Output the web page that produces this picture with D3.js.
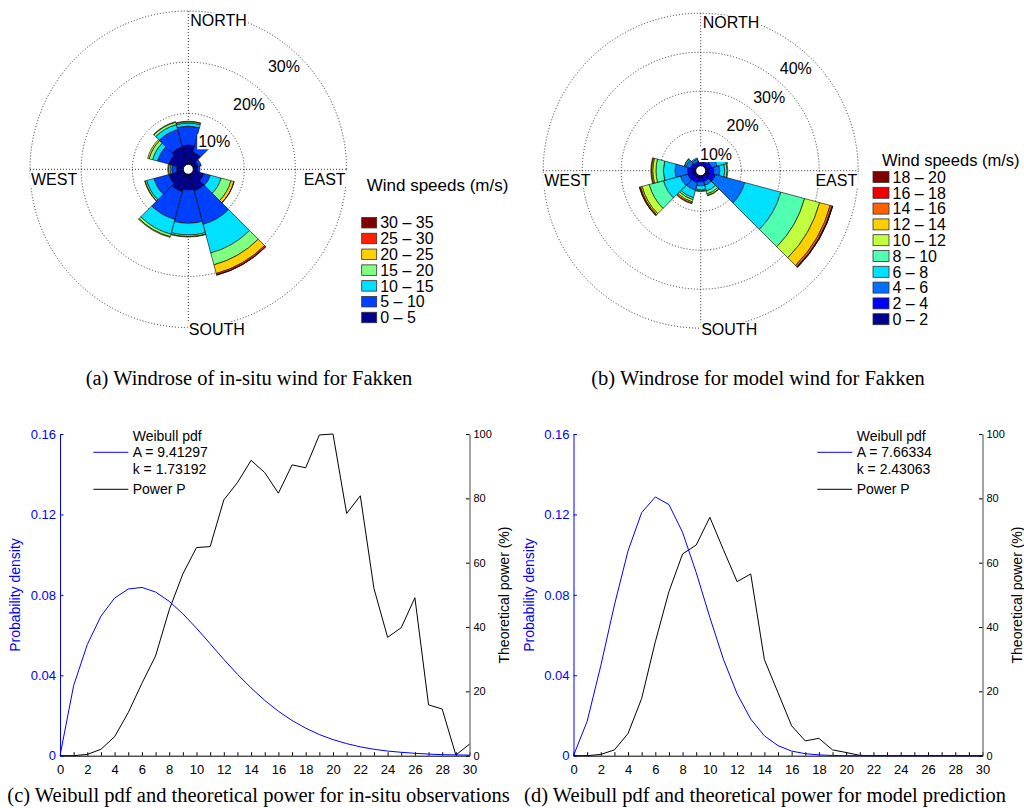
<!DOCTYPE html>
<html><head><meta charset="utf-8">
<script src="https://cdn.jsdelivr.net/npm/d3@7"></script>
<style>
body{margin:0;background:#fff}
svg text{font-family:"Liberation Sans",Arial,Helvetica,sans-serif}
</style>
</head><body>
<svg id="chart" width="1024" height="808"></svg>
<script>
// ---------------- DATA ----------------
const directions = [0,30,60,90,120,150,180,210,240,270,300,330];

// (a) in-situ windrose: cumulative % per direction, one value per speed bin
const binsA = ["0 – 5","5 – 10","10 – 15","15 – 20","20 – 25","25 – 30","30 – 35"];
const colorsA = ["#00008f","#0040ff","#00e0ff","#80ff80","#ffd000","#ff2000","#800000"];
const roseA = [
  [3.8, 7.5, 8.1, 8.35, 8.45],
  [2.5, 6.0],
  [1.0, 1.7],
  [0.9, 1.35],
  [2.2, 3.5, 5.7, 7.7, 8.3, 8.35],
  [3.4, 10.2, 16.0, 18.4, 20.15, 20.45, 20.5],
  [3.1, 9.6, 11.9, 12.2, 12.3],
  [3.6, 9.2, 12.2, 12.7, 12.85],
  [3.0, 6.0, 7.5, 7.8, 7.9],
  [1.35, 2.3, 2.65, 2.95, 3.1],
  [3.0, 5.3, 6.3, 7.0, 7.3],
  [3.6, 7.1, 8.1, 8.6, 8.7]
];
const ringsA = [10,20,30];

// (b) model windrose
const binsB = ["0 – 2","2 – 4","4 – 6","6 – 8","8 – 10","10 – 12","12 – 14","14 – 16","16 – 18","18 – 20"];
const colorsB = ["#00008f","#0000ff","#0070ff","#00e0ff","#50ffb0","#c0ff40","#ffd000","#ff6000","#ee0000","#800000"];
const roseB = [
  [1.0, 1.8, 2.2],
  [1.0, 2.0, 2.6],
  [1.2, 2.5, 4.0, 6.5, 6.8],
  [1.5, 3.0, 4.5, 5.8, 6.4, 6.6],
  [2.0, 3.5, 11.3, 20.9, 27.2, 31.2, 34.0, 34.5, 34.65, 34.7],
  [1.2, 2.5, 3.5, 5.0, 5.8, 6.2, 6.3],
  [1.5, 2.5, 3.5, 4.5, 4.8, 5.0],
  [1.5, 2.8, 4.8, 6.8, 7.3, 7.9, 8.2, 8.4],
  [1.8, 3.0, 5.0, 9.5, 13.3, 15.2, 15.6, 15.85, 15.9],
  [1.8, 3.0, 6.2, 9.2, 11.1, 11.9, 12.2, 12.4],
  [1.2, 2.3, 3.5, 3.9, 4.0],
  [1.0, 2.0, 2.7, 3.0]
];
const ringsB = [10,20,30,40];
const compassLabels = ["NORTH","EAST","SOUTH","WEST"];
const legendTitle = "Wind speeds (m/s)";

// (c)/(d) Weibull pdf and power
const windSpeed = [0,1,2,3,4,5,6,7,8,9,10,11,12,13,14,15,16,17,18,19,20,21,22,23,24,25,26,27,28,29,30];
const pdfC = [0,0.0349,0.0553,0.0694,0.0784,0.0829,0.0837,0.0814,0.0768,0.0706,0.0634,0.0557,0.0479,0.0405,0.0337,0.0275,0.0221,0.0175,0.0137,0.0105,0.0080,0.0060,0.0044,0.0032,0.0023,0.0017,0.0012,0.0008,0.0005,0.0004,0.0003];
const powerC = [0,0,0.4,2.0,5.9,13.4,22.5,31.0,45.3,56.5,64.7,65.0,79.5,84.9,91.8,88.0,81.6,90.4,89.5,99.7,100,75.3,80.8,52.0,36.8,39.8,49.1,15.8,14.5,0.2,3.6];
const pdfD = [0,0.0171,0.0447,0.0749,0.1019,0.1209,0.1287,0.1249,0.1111,0.0911,0.0688,0.0479,0.0308,0.0182,0.0099,0.0050,0.0023,0.0010,0.0004,0.0001,0,0,0,0,0,0,0,0,0,0,0];
const powerD = [0,0,0.4,1.8,6.9,17.8,35.4,51.0,62.7,65.5,74.1,64.0,54.1,56.5,29.9,19.6,9.3,4.6,5.4,1.8,1.0,0.1,0,0,0,0,0,0,0,0,0];
const legendC = ["Weibull pdf","A = 9.41297","k = 1.73192","Power P"];
const legendD = ["Weibull pdf","A = 7.66334","k = 2.43063","Power P"];
const pdfTicks = [0,0.04,0.08,0.12,0.16];
const powerTicks = [0,20,40,60,80,100];
const speedTicks = windSpeed;
const axisLabels = ["Probability density","Theoretical power (%)"];
const captions = [
  "(a) Windrose of in-situ wind for Fakken",
  "(b) Windrose for model wind for Fakken",
  "(c) Weibull pdf and theoretical power for in-situ observations",
  "(d) Weibull pdf and theoretical power for model prediction"
];

// ---------------- DRAW ----------------
const svg = d3.select("#chart");
svg.append("rect").attr("width",1024).attr("height",808).attr("fill","#fff");

function whiteBg(g, textSel, pad){
  const b = textSel.node().getBBox();
  g.insert("rect", () => textSel.node())
    .attr("x", b.x - pad).attr("y", b.y + 1).attr("width", b.width + 2*pad).attr("height", b.height - 2)
    .attr("fill", "#fff");
}

function drawRose(cfg){
  const g = svg.append("g").attr("transform", `translate(${cfg.cx},${cfg.cy})`);
  const maxRing = cfg.rings[cfg.rings.length-1];
  const r = d3.scaleLinear().domain([0, maxRing]).range([cfg.r0, cfg.R]);
  const R = cfg.R;
  const dot = "1,2";
  // grid
  cfg.rings.forEach(v => g.append("circle").attr("r", r(v)).attr("fill","none")
    .attr("stroke","#000").attr("stroke-width",0.8).attr("stroke-dasharray",dot));
  g.append("line").attr("x1",-R).attr("x2",R).attr("y1",0).attr("y2",0)
    .attr("stroke","#000").attr("stroke-width",0.8).attr("stroke-dasharray",dot);
  g.append("line").attr("x1",0).attr("x2",0).attr("y1",-R).attr("y2",R)
    .attr("stroke","#000").attr("stroke-width",0.8).attr("stroke-dasharray",dot);
  // bars
  const arc = d3.arc();
  cfg.data.forEach((cum, i) => {
    const a0 = (directions[i]-15)*Math.PI/180, a1 = (directions[i]+15)*Math.PI/180;
    cum.forEach((v, j) => {
      const inner = j === 0 ? 0 : cum[j-1];
      g.append("path").attr("d", arc({innerRadius: r(inner), outerRadius: r(v), startAngle: a0, endAngle: a1}))
        .attr("fill", cfg.colors[j]).attr("stroke","#000").attr("stroke-width",0.6);
    });
  });
  // hole
  g.append("circle").attr("r",5).attr("fill","#fff").attr("stroke","#000").attr("stroke-width",1);
  // ring labels
  const ang = 43*Math.PI/180;
  cfg.rings.forEach(v => {
    const rr = r(v) - 18;
    const t = g.append("text").attr("x", rr*Math.sin(ang)).attr("y", -rr*Math.cos(ang))
      .attr("text-anchor","middle").attr("dy","0.36em").attr("font-size",16).attr("fill","#000").text(v + "%");
    whiteBg(g, t, 1);
  });
  // compass labels
  const pos = [
    {x: 2, y: -R + 9.5, a: "start"},
    {x: R - 1, y: 9.5, a: "end"},
    {x: 0.5, y: R + 1.5, a: "start"},
    {x: -R + 1, y: 9.5, a: "start"}
  ];
  compassLabels.forEach((lab, i) => {
    const t = g.append("text").attr("x", pos[i].x).attr("y", pos[i].y).attr("text-anchor", pos[i].a)
      .attr("dy","0.36em").attr("font-size",16).attr("fill","#000").text(lab);
    whiteBg(g, t, 1);
  });
  // legend
  const lg = svg.append("g");
  lg.append("text").attr("x", cfg.lx + cfg.tdx).attr("y", cfg.ty).attr("dy","0.36em")
    .attr("font-size",cfg.tfs).text(legendTitle);
  const n = cfg.bins.length;
  for (let k = 0; k < n; k++){
    const idx = n - 1 - k;
    const yc = cfg.ly + k*cfg.lstep;
    lg.append("rect").attr("x", cfg.lx).attr("y", yc - cfg.sh/2).attr("width", cfg.sw).attr("height", cfg.sh)
      .attr("fill", cfg.colors[idx]).attr("stroke","#333").attr("stroke-width",0.8);
    lg.append("text").attr("x", cfg.lx + cfg.sw + 3.5).attr("y", yc).attr("dy","0.36em")
      .attr("font-size",16).text(cfg.bins[idx]);
  }
}

drawRose({cx:188.3, cy:169.3, r0:4.8, R:158.3, rings:ringsA, data:roseA, colors:colorsA, bins:binsA,
  lx:361.7, tdx:5, ty:185, tfs:17, ly:222.7, lstep:15.8, sw:15, sh:10.5});
drawRose({cx:700.7, cy:170.7, r0:1.5, R:157.5, rings:ringsB, data:roseB, colors:colorsB, bins:binsB,
  lx:873, tdx:9, ty:160.5, tfs:16.5, ly:177, lstep:15.8, sw:16, sh:11});

function drawWeibull(cfg){
  const g = svg.append("g");
  const x = d3.scaleLinear().domain([0,30]).range([cfg.x0, cfg.x1]);
  const y = d3.scaleLinear().domain([0,0.16]).range([755.7, 434]);
  const y2 = d3.scaleLinear().domain([0,100]).range([755.7, 434]);
  const blue = "#0000ff";

  // bottom axis
  const ax = g.append("g").attr("transform","translate(0,755.7)")
    .call(d3.axisBottom(x).tickValues(speedTicks).tickSizeInner(-3.5).tickSizeOuter(0).tickPadding(9)
      .tickFormat(d => d % 2 === 0 ? d : ""));
  ax.selectAll("text").attr("font-size",13).attr("font-family",null).attr("fill","#000");
  ax.selectAll("line,path").attr("stroke","#000");
  // left axis
  const al = g.append("g").attr("transform",`translate(${cfg.x0},0)`)
    .call(d3.axisLeft(y).tickValues(pdfTicks).tickSizeInner(-3.5).tickSizeOuter(0).tickPadding(4)
      .tickFormat(d => d === 0 ? "0" : d3.format(".2f")(d)));
  al.selectAll("text").attr("font-size",13).attr("font-family",null).attr("fill",blue);
  al.selectAll("line,path").attr("stroke",blue);
  // right axis
  const ar = g.append("g").attr("transform",`translate(${cfg.x1},0)`)
    .call(d3.axisRight(y2).tickValues(powerTicks).tickSizeInner(-3.5).tickSizeOuter(0).tickPadding(4));
  ar.selectAll("text").attr("font-size",11).attr("font-family",null).attr("fill","#000");
  ar.selectAll("line").attr("stroke","#000");
  ar.select("path").attr("stroke","#666").attr("stroke-width",1.2);

  // lines
  g.append("path").datum(cfg.power)
    .attr("d", d3.line().x((d,i) => x(windSpeed[i])).y(d => y2(d)))
    .attr("fill","none").attr("stroke","#000").attr("stroke-width",1);
  g.append("path").datum(cfg.pdf)
    .attr("d", d3.line().x((d,i) => x(windSpeed[i])).y(d => y(d)))
    .attr("fill","none").attr("stroke",blue).attr("stroke-width",1);

  // axis titles
  g.append("text").attr("transform",`translate(${cfg.x0 - 45},595) rotate(-90)`)
    .attr("text-anchor","middle").attr("dy","0.36em").attr("font-size",14).attr("fill",blue).text(axisLabels[0]);
  g.append("text").attr("transform",`translate(${cfg.x1 + 34},595) rotate(-90)`)
    .attr("text-anchor","middle").attr("dy","0.36em").attr("font-size",14).attr("fill","#000").text(axisLabels[1]);

  // legend
  const ys = [436, 452.3, 469.3, 489.3];
  cfg.legend.forEach((t, i) => {
    g.append("text").attr("x", cfg.lt).attr("y", ys[i]).attr("dy","0.36em").attr("font-size",14).text(t);
  });
  g.append("line").attr("x1", cfg.lt - 39.4).attr("x2", cfg.lt - 4.4).attr("y1", ys[1]).attr("y2", ys[1])
    .attr("stroke",blue).attr("stroke-width",1);
  g.append("line").attr("x1", cfg.lt - 39.4).attr("x2", cfg.lt - 4.4).attr("y1", ys[3]).attr("y2", ys[3])
    .attr("stroke","#000").attr("stroke-width",1);
}

drawWeibull({x0:60, x1:469.5, pdf:pdfC, power:powerC, legend:legendC, lt:132.7});
drawWeibull({x0:573.5, x1:982.5, pdf:pdfD, power:powerD, legend:legendD, lt:856.7});

// captions
const capPos = [[249,378],[758,378],[258.5,795],[765,795]];
captions.forEach((c, i) => {
  svg.append("text").attr("x", capPos[i][0]).attr("y", capPos[i][1]).attr("dy","0.34em")
    .attr("text-anchor","middle").attr("font-size",20.5)
    .style("font-family",'"Liberation Serif","Times New Roman",serif').text(c);
});
</script>
</body></html>
